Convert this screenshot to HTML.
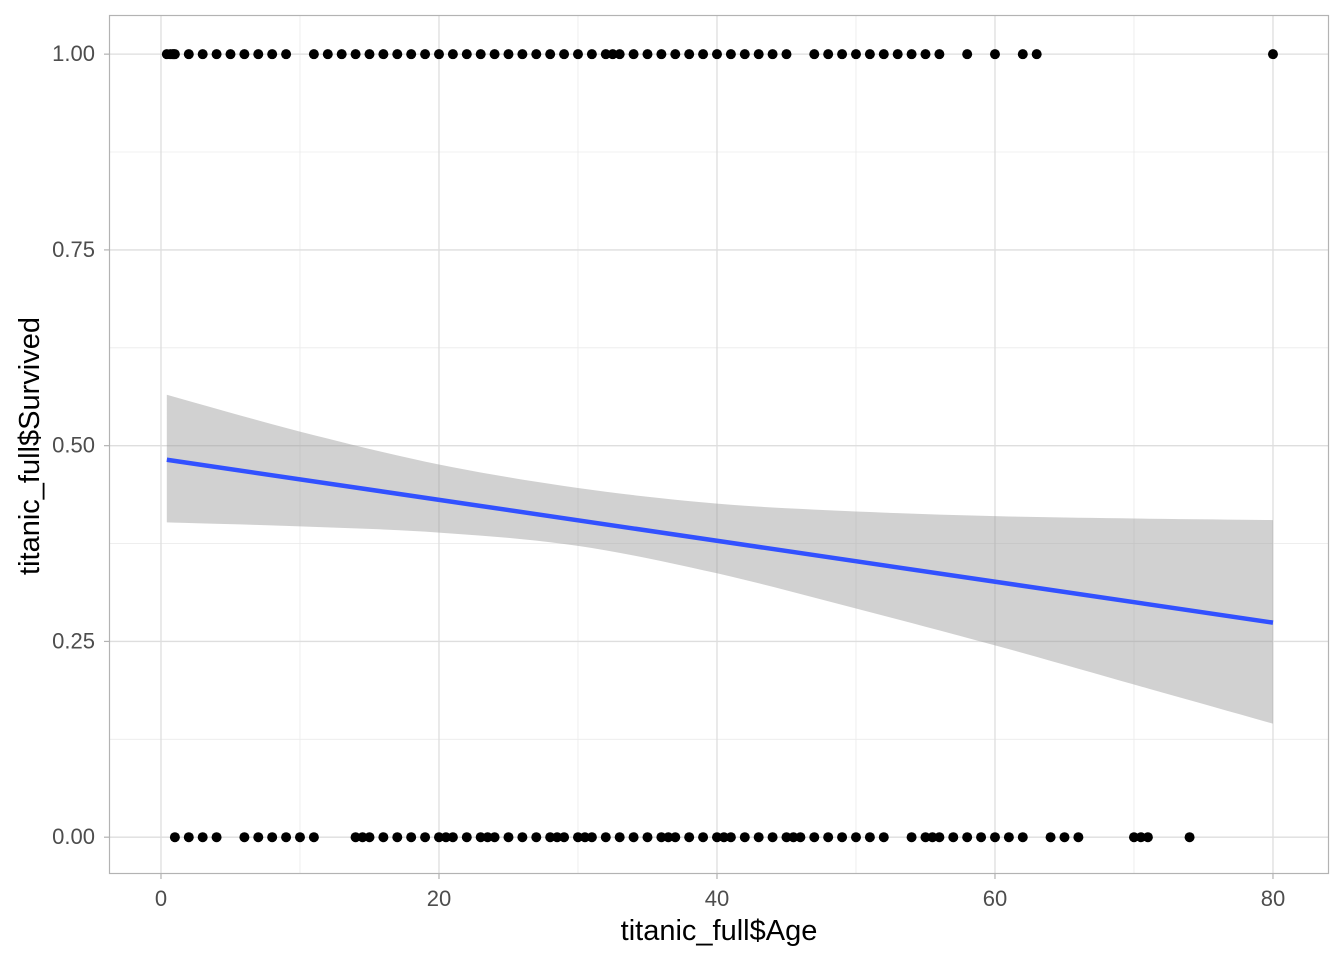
<!DOCTYPE html>
<html><head><meta charset="utf-8"><style>
body{margin:0;background:#fff;}
svg{display:block;font-family:"Liberation Sans",sans-serif;}
</style></head><body>
<svg id="chart" width="1344" height="960">
<rect x="0" y="0" width="1344" height="960" fill="#fff"/>
<g id="grid"></g>
<g id="band"></g>
<g id="pts"></g>
<g id="axes"></g>
<rect x="109.5" y="15.5" width="1219" height="858" fill="none" stroke="#b3b3b3" stroke-width="1.2"/>
<text x="719" y="940" font-size="29" text-anchor="middle" fill="#000">titanic_full$Age</text>
<text transform="translate(39,446) rotate(-90)" font-size="29" text-anchor="middle" fill="#000">titanic_full$Survived</text>
</svg>
<script>
const xTicks=[0,20,40,60,80];
const xMinor=[10,30,50,70];
const yTicks=[0,0.25,0.5,0.75,1];
const yTickLabels=["0.00","0.25","0.50","0.75","1.00"];
const yMinor=[0.125,0.375,0.625,0.875];
const survivedAges=[0.42,0.67,0.83,0.92,1,2,3,4,5,6,7,8,9,11,12,13,14,15,16,17,18,19,20,21,22,23,24,25,26,27,28,29,30,31,32,32.5,33,34,35,36,37,38,39,40,41,42,43,44,45,47,48,49,50,51,52,53,54,55,56,58,60,62,63,80];
const diedAges=[1,2,3,4,6,7,8,9,10,11,14,14.5,15,16,17,18,19,20,20.5,21,22,23,23.5,24,25,26,27,28,28.5,29,30,30.5,31,32,33,34,35,36,36.5,37,38,39,40,40.5,41,42,43,44,45,45.5,46,47,48,49,50,51,52,54,55,55.5,56,57,58,59,60,61,62,64,65,66,70,70.5,71,74];
const bandAges=[0.42,10,20,30,40,50,60,70,80];
const bandUpper=[0.565,0.518,0.476,0.446,0.426,0.416,0.41,0.407,0.405];
const bandLower=[0.402,0.397,0.389,0.372,0.337,0.292,0.245,0.195,0.145];
const fitAges=[0.42,80];
const fitValues=[0.482,0.274];

const X0=109,X1=1329,Y0=15,Y1=874;
const xmin=-3.74,xmax=84.03,ymin=-0.047,ymax=1.05;
const sx=v=>X0+(v-xmin)/(xmax-xmin)*(X1-X0);
const sy=v=>Y1-(v-ymin)/(ymax-ymin)*(Y1-Y0);
const NS="http://www.w3.org/2000/svg";
function mk(tag,attrs,parent){const e=document.createElementNS(NS,tag);for(const k in attrs)e.setAttribute(k,attrs[k]);parent.appendChild(e);return e;}
const grid=document.getElementById('grid'),axes=document.getElementById('axes');
xMinor.forEach(v=>{const l=mk('line',{x1:sx(v),x2:sx(v),y1:Y0,y2:Y1,stroke:'#ebebeb','stroke-width':0.8},grid);

});
yMinor.forEach(v=>{const l=mk('line',{x1:X0,x2:X1,y1:sy(v),y2:sy(v),stroke:'#ebebeb','stroke-width':0.8},grid);

});
xTicks.forEach(v=>{const l=mk('line',{x1:sx(v),x2:sx(v),y1:Y0,y2:Y1,stroke:'#dedede','stroke-width':1.3},grid);


const t=mk('line',{x1:sx(v),x2:sx(v),y1:Y1,y2:Y1+5,stroke:'#b3b3b3','stroke-width':1.2},axes);


const tx=mk('text',{x:sx(v),y:906,'font-size':22,'text-anchor':'middle',fill:'#4d4d4d'},axes);tx.textContent=v;

});
yTicks.forEach((v,i)=>{const l=mk('line',{x1:X0,x2:X1,y1:sy(v),y2:sy(v),stroke:'#dedede','stroke-width':1.3},grid);


const t=mk('line',{x1:X0-5,x2:X0,y1:sy(v),y2:sy(v),stroke:'#b3b3b3','stroke-width':1.2},axes);


const tx=mk('text',{x:X0-14,y:sy(v)+7,'font-size':22,'text-anchor':'end',fill:'#4d4d4d'},axes);tx.textContent=yTickLabels[i];

});
function smooth(xs,ys){const out=[];for(let i=0;i<xs.length-1;i++){const i0=Math.max(0,i-1),i3=Math.min(xs.length-1,i+2);
for(let k=0;k<10;k++){const t=k/10,t2=t*t,t3=t2*t;
const f=(p0,p1,p2,p3)=>0.5*((2*p1)+(-p0+p2)*t+(2*p0-5*p1+4*p2-p3)*t2+(-p0+3*p1-3*p2+p3)*t3);
out.push([f(xs[i0],xs[i],xs[i+1],xs[i3]),f(ys[i0],ys[i],ys[i+1],ys[i3])]);}}
out.push([xs[xs.length-1],ys[ys.length-1]]);return out;}
const band=document.getElementById('band');
const up=smooth(bandAges,bandUpper),lo=smooth(bandAges,bandLower).reverse();
let d='M'+up.map(p=>sx(p[0])+','+sy(p[1])).join(' L')+' L'+lo.map(p=>sx(p[0])+','+sy(p[1])).join(' L')+' Z';
const bp=mk('path',{d:d,fill:'#999','fill-opacity':0.45,stroke:'none'},band);


const fl=mk('line',{x1:sx(fitAges[0]),y1:sy(fitValues[0]),x2:sx(fitAges[1]),y2:sy(fitValues[1]),stroke:'#3251ff','stroke-width':4.5},band);


const pts=document.getElementById('pts');
survivedAges.forEach(a=>{const c=mk('circle',{cx:sx(a),cy:sy(1),r:5,fill:'#000'},pts);

});
diedAges.forEach(a=>{const c=mk('circle',{cx:sx(a),cy:sy(0),r:5,fill:'#000'},pts);

});
</script>
</body></html>
